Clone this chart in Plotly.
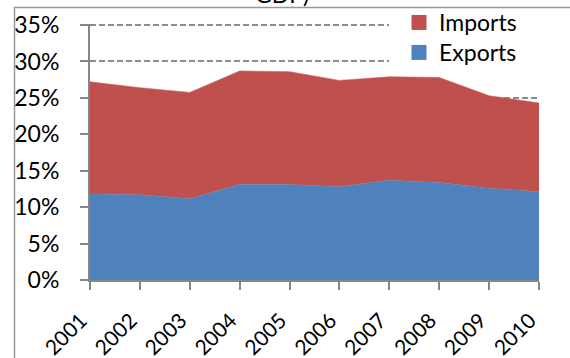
import plotly.graph_objects as go

years = [2001, 2002, 2003, 2004, 2005, 2006, 2007, 2008, 2009, 2010]
year_labels = [str(y) for y in years]
exports = [11.8, 11.7, 11.15, 13.1, 13.1, 12.8, 13.7, 13.4, 12.6, 12.1]
imports = [15.4, 14.7, 14.6, 15.6, 15.5, 14.6, 14.2, 14.4, 12.7, 12.2]
y_ticks = [0, 5, 10, 15, 20, 25, 30, 35]
y_tick_labels = [f"{v}%" for v in y_ticks]

BLUE = "#4F81BD"
RED = "#C0504D"
GRAY = "#868686"
FONT = "Lato"

W, H = 570, 358
L, R, T, B = 90, 31, 24, 78
PW, PH = W - L - R, H - T - B


def px_x(p):
    return (p - L) / PW


def px_y(p):
    return 1 - (p - T) / PH


fig = go.Figure()
fig.add_trace(go.Scatter(x=years, y=exports, stackgroup="s", mode="lines",
                         line=dict(width=0.5, color=BLUE), fillcolor=BLUE,
                         name="Exports", showlegend=False))
fig.add_trace(go.Scatter(x=years, y=imports, stackgroup="s", mode="lines",
                         line=dict(width=0.5, color=RED), fillcolor=RED,
                         name="Imports", showlegend=False))
# legend entries (square swatches)
fig.add_trace(go.Scatter(x=[None], y=[None], mode="markers", name="Imports",
                         marker=dict(symbol="square", size=15, color=RED),
                         legend="legend"))
fig.add_trace(go.Scatter(x=[None], y=[None], mode="markers", name="Exports",
                         marker=dict(symbol="square", size=15, color=BLUE),
                         legend="legend2"))

leg_common = dict(xanchor="left", yanchor="middle", bgcolor="rgba(0,0,0,0)",
                  borderwidth=0, font=dict(size=23, family=FONT))

fig.update_layout(
    width=W, height=H,
    margin=dict(l=L, r=R, t=T, b=B, autoexpand=False),
    paper_bgcolor="white", plot_bgcolor="white",
    font=dict(family=FONT, size=23, color="black"),
    showlegend=True,
    legend=dict(x=px_x(399), y=px_y(22.5), **leg_common),
    legend2=dict(x=px_x(399), y=px_y(52.5), **leg_common),
    xaxis=dict(range=[2001, 2010], tickmode="array", tickvals=years, ticktext=year_labels,
               tickangle=-45, showline=True, linecolor=GRAY, linewidth=2,
               ticks="outside", ticklen=8, tickcolor=GRAY, tickwidth=2,
               tickfont=dict(size=21),
               ticklabelshift=-9, ticklabelstandoff=10,
               showgrid=False, zeroline=False, automargin=False),
    yaxis=dict(range=[0, 35.14], tickmode="array", tickvals=y_ticks, ticktext=y_tick_labels,
               showline=True, linecolor=GRAY, linewidth=2,
               ticks="outside", ticklen=8, tickcolor=GRAY, tickwidth=2,
               ticklabelstandoff=16, automargin=False,
               showgrid=True, gridcolor="#8c8c8c", gridwidth=1.5, griddash="6px,3px",
               zeroline=False),
    shapes=[
        dict(type="rect", xref="paper", yref="paper",
             x0=px_x(14.5), x1=1.3, y0=-0.6, y1=px_y(7.5),
             line=dict(color="#999999", width=1.5), layer="below"),
        # white panel behind the legend hiding the gridlines
        dict(type="rect", xref="paper", yref="paper",
             x0=px_x(389), x1=1.0, y0=px_y(68), y1=px_y(20),
             fillcolor="white", line=dict(width=0), layer="above"),
    ],
    annotations=[dict(text="GDP)", xref="paper", yref="paper",
                      x=px_x(282), y=px_y(10),
                      xanchor="center", yanchor="bottom", showarrow=False,
                      font=dict(size=23, family=FONT))],
)

fig.write_html("out.html", config={"displayModeBar": False},
               post_script="document.body.style.margin='0';")
